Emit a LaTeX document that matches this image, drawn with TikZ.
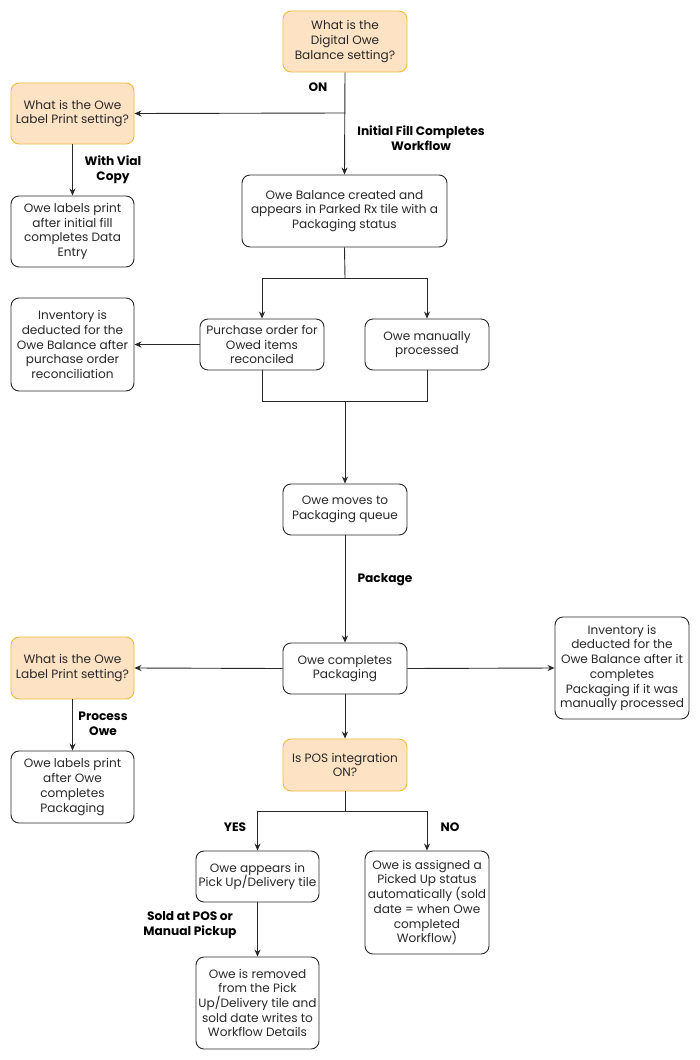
\documentclass[tikz,border=0pt]{standalone}
\usepackage{fontspec}
\setmainfont{Poppins}
\usetikzlibrary{arrows.meta}
\definecolor{qfill}{RGB}{254,226,196}
\definecolor{qdraw}{RGB}{242,186,60}
\definecolor{ln}{RGB}{40,40,40}
\begin{document}
\begin{tikzpicture}[x=1pt,y=-1pt,
  every node/.style={font=\fontsize{12.1}{14.7}\selectfont, text=ln},
  box/.style={draw=ln, line width=0.9pt, rounded corners=8pt, align=center, inner sep=0pt, fill=white},
  qbox/.style={box, draw=qdraw, fill=qfill},
  lab/.style={font=\fontsize{12.2}{15}\selectfont\bfseries, align=center, text=black},
  conn/.style={draw=ln, line width=0.9pt},
  arr/.style={conn, -{Stealth[length=7pt,width=6pt]}}
]
\useasboundingbox (0,0) rectangle (700,1060);
\fill[white] (0,0) rectangle (700,1060);

\node[qbox, minimum width=124pt, minimum height=61pt] (q1) at (345,41.5) {What is the\\Digital Owe\\Balance setting?};
\node[qbox, minimum width=123pt, minimum height=61pt] (q2) at (72.5,113.5) {What is the Owe\\Label Print setting?};
\node[box, minimum width=123pt, minimum height=71pt] (l1) at (72.5,231.5) {Owe labels print\\after initial fill\\completes Data\\Entry};
\node[box, minimum width=205pt, minimum height=72pt] (b1) at (344.5,211) {Owe Balance created and\\appears in Parked Rx tile with a\\Packaging status};
\node[box, minimum width=123pt, minimum height=93pt] (inv1) at (72.5,344.5) {Inventory is\\deducted for the\\Owe Balance after\\purchase order\\reconciliation};
\node[box, minimum width=124pt, minimum height=51pt] (po) at (262,344.5) {Purchase order for\\Owed items\\reconciled};
\node[box, minimum width=124pt, minimum height=51pt] (man) at (427,344.5) {Owe manually\\processed};
\node[box, minimum width=124pt, minimum height=51pt] (mv) at (345,509.5) {Owe moves to\\Packaging queue};
\node[box, minimum width=124pt, minimum height=51pt] (cp) at (345,668.5) {Owe completes\\Packaging};
\node[qbox, minimum width=123pt, minimum height=62pt] (q3) at (72.5,668) {What is the Owe\\Label Print setting?};
\node[box, minimum width=123pt, minimum height=72pt] (l2) at (72.5,787) {Owe labels print\\after Owe\\completes\\Packaging};
\node[box, minimum width=134pt, minimum height=102pt] (inv2) at (622,668) {Inventory is\\deducted for the\\Owe Balance after it\\completes\\Packaging if it was\\manually processed};
\node[qbox, minimum width=124pt, minimum height=52pt] (pos) at (345,765) {Is POS integration\\ON?};
\node[box, minimum width=123pt, minimum height=51pt] (pk) at (257.5,876.5) {Owe appears in\\Pick Up/Delivery tile};
\node[box, minimum width=124pt, minimum height=103pt] (no) at (427,902.5) {Owe is assigned a\\Picked Up status\\automatically (sold\\date = when Owe\\completed\\Workflow)};
\node[box, minimum width=123pt, minimum height=92pt] (rm) at (257.5,1003) {Owe is removed\\from the Pick\\Up/Delivery tile and\\sold date writes to\\Workflow Details};

% top
\coordinate (j1) at (345,113);
\draw[arr] (q1.south) -- (b1.north);
\draw[arr] (j1) -- (q2.east);
\node[lab] (lon) at (318,87) {ON};
\node[lab] (lif) at (421,138.5) {Initial Fill Completes\\Workflow};
\draw[arr] (q2.south) -- (l1.north);
\node[lab] (lwv) at (113,170) {With Vial\\Copy};

% split
\coordinate (s1) at (345,278);
\draw[conn] (b1.south) -- (s1);
\draw[arr] (s1) -| (po.north);
\draw[arr] (s1) -| (man.north);
\draw[arr] (po.west) -- (inv1.east);
\coordinate (m1) at (345,401);
\draw[conn] (po.south) |- (m1);
\draw[conn] (man.south) |- (m1);
\draw[arr] (m1) -- (mv.north);

\draw[arr] (mv.south) -- (cp.north);
\node[lab] (lpk) at (385,580) {Package};

\draw[arr] (cp.west) -- (q3.east);
\draw[arr] (cp.east) -- (inv2.west);
\draw[arr] (q3.south) -- (l2.north);
\node[lab] (lpo) at (103,724) {Process\\Owe};

\draw[arr] (cp.south) -- (pos.north);
\coordinate (s2) at (345,811);
\draw[conn] (pos.south) -- (s2);
\draw[arr] (s2) -| (pk.north);
\draw[arr] (s2) -| (no.north);
\node[lab] (lyes) at (235,827) {YES};
\node[lab] (lno) at (450,827) {NO};

\draw[arr] (pk.south) -- (rm.north);
\node[lab] (lsold) at (190,925) {Sold at POS or\\Manual Pickup};
\end{tikzpicture}
\end{document}
